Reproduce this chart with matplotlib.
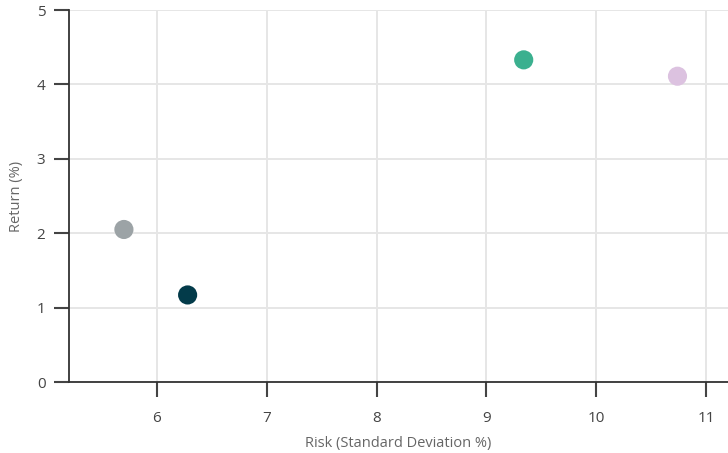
import matplotlib.pyplot as plt

# values
risk = [5.70, 6.28, 9.34, 10.74]
ret = [2.05, 1.17, 4.33, 4.11]
colors = ["#9ca3a6", "#033b4a", "#3bb08f", "#dcc2e0"]

xticks = [6, 7, 8, 9, 10, 11]
yticks = [0, 1, 2, 3, 4, 5]

plt.rcParams['font.family'] = ['Open Sans', 'DejaVu Sans']

fig = plt.figure(figsize=(7.28, 4.53), dpi=100)
ax = fig.add_axes([69 / 728, 1 - 382 / 453, (728 - 69) / 728, 372 / 453])

ax.scatter(risk, ret, s=190, c=colors, zorder=3, linewidths=0)

ax.set_xlim(5.2, 11.2)
ax.set_ylim(0, 5)
ax.set_xticks(xticks)
ax.set_yticks(yticks)
ax.grid(True, color="#e6e6e6", linewidth=1.4)
ax.set_axisbelow(True)

for s in ["top", "right"]:
    ax.spines[s].set_visible(False)
for s in ["left", "bottom"]:
    ax.spines[s].set_color("#333333")
    ax.spines[s].set_linewidth(1.3)

ax.tick_params(axis="both", length=11, width=1.5, color="#444444",
               labelsize=11, labelcolor="#444444", pad=6)
ax.tick_params(axis="x", pad=10)

ax.set_xlabel("Risk (Standard Deviation %)", fontsize=10.5, color="#666666",
              labelpad=7)
ax.set_ylabel("Return (%)", fontsize=10.5, color="#666666", labelpad=9)

fig.savefig("out.png", dpi=100)
